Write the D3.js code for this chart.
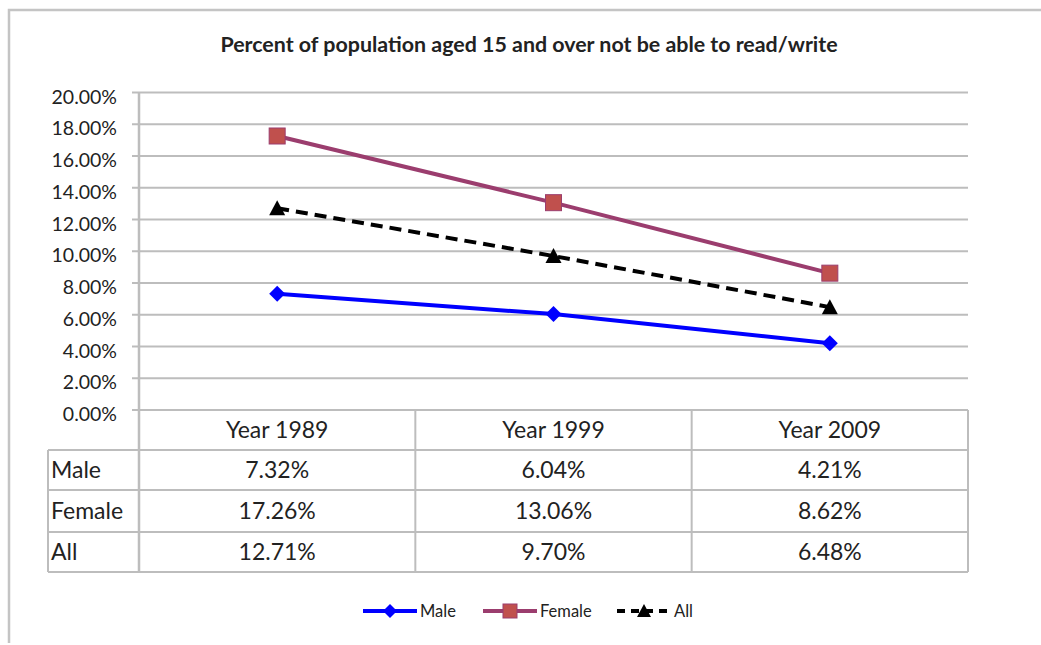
<!DOCTYPE html>
<html>
<head>
<meta charset="utf-8">
<script src="https://cdn.jsdelivr.net/npm/d3@7"></script>
<style>
  body { margin: 0; background: #fff; }
  text { font-family: Lato, "Open Sans", sans-serif; fill: #222; }
</style>
</head>
<body>
<svg width="1041" height="645"></svg>
<script>
var svg = d3.select('svg');

// data
var years = ['Year 1989', 'Year 1999', 'Year 2009'];
var male = [7.32, 6.04, 4.21];
var female = [17.26, 13.06, 8.62];
var all = [12.71, 9.70, 6.48];
var yTicks = [0, 2, 4, 6, 8, 10, 12, 14, 16, 18, 20];
var title = 'Percent of population aged 15 and over not be able to read/write';

var series = [
  { name: 'Male', values: male, color: '#0000ff', marker: 'diamond', dash: null },
  { name: 'Female', values: female, color: '#9b3d6e', marker: 'square', dash: null },
  { name: 'All', values: all, color: '#000', marker: 'triangle', dash: '12,7' }
];

var grid = '#bdbdbd';
var plotLeft = 139, plotRight = 968, plotTop = 92.5, plotBottom = 410;
var rowY = [410, 450, 490, 532, 572];
var tableLeft = 48;
var cellFont = '23px';

// outer frame
svg.append('path')
  .attr('d', 'M9,643 V10 H1041')
  .attr('fill', 'none')
  .attr('stroke', '#c4c4c4')
  .attr('stroke-width', 2.5);

svg.append('text')
  .attr('x', 529).attr('y', 52)
  .attr('text-anchor', 'middle')
  .style('font-size', '21.4px')
  .style('font-weight', 'bold')
  .text(title);

var xScale = d3.scaleBand().domain(years).range([plotLeft, plotRight]);
var yScale = d3.scaleLinear().domain([0, 20]).range([plotBottom, plotTop]);

// gridlines
svg.selectAll('.grid')
  .data(yTicks)
  .enter()
  .append('line')
  .attr('x1', plotLeft - 7)
  .attr('x2', plotRight)
  .attr('y1', function(d) { return yScale(d); })
  .attr('y2', function(d) { return yScale(d); })
  .attr('stroke', grid)
  .attr('stroke-width', 2);

var yAxis = d3.axisLeft(yScale)
  .tickValues(yTicks)
  .tickSize(0)
  .tickPadding(22)
  .tickFormat(function(d) { return d3.format('.2f')(d) + '%'; });
var ya = svg.append('g')
  .attr('transform', 'translate(' + plotLeft + ',0)')
  .call(yAxis);
ya.select('.domain').remove();
ya.selectAll('text')
  .style('font-size', '19.5px')
  .style('font-family', 'Lato, sans-serif')
  .attr('fill', '#333')
  .attr('dy', '0.55em');

// table lines
svg.append('line')
  .attr('x1', plotLeft).attr('x2', plotLeft)
  .attr('y1', plotTop).attr('y2', rowY[4])
  .attr('stroke', grid).attr('stroke-width', 2.5);
svg.selectAll('.rowline')
  .data(rowY.slice(1))
  .enter()
  .append('line')
  .attr('x1', tableLeft).attr('x2', plotRight)
  .attr('y1', function(d) { return d; })
  .attr('y2', function(d) { return d; })
  .attr('stroke', grid).attr('stroke-width', 2);
svg.append('line')
  .attr('x1', tableLeft).attr('x2', tableLeft)
  .attr('y1', rowY[1]).attr('y2', rowY[4])
  .attr('stroke', grid).attr('stroke-width', 2);
svg.selectAll('.colline')
  .data(years)
  .enter()
  .append('line')
  .attr('x1', function(d) { return xScale(d) + xScale.bandwidth(); })
  .attr('x2', function(d) { return xScale(d) + xScale.bandwidth(); })
  .attr('y1', rowY[0]).attr('y2', rowY[4])
  .attr('stroke', grid).attr('stroke-width', 2);

// header
svg.selectAll('.head')
  .data(years)
  .enter()
  .append('text')
  .attr('x', function(d) { return xScale(d) + xScale.bandwidth() / 2; })
  .attr('y', (rowY[0] + rowY[1]) / 2 + 8)
  .attr('text-anchor', 'middle')
  .style('font-size', cellFont)
  .text(function(d) { return d; });

// rows
series.forEach(function(s, r) {
  var cy = (rowY[r + 1] + rowY[r + 2]) / 2 + 8;
  svg.append('text')
    .attr('x', tableLeft + 3).attr('y', cy)
    .style('font-size', cellFont)
    .text(s.name);
  s.values.forEach(function(v, i) {
    svg.append('text')
      .attr('x', xScale(years[i]) + xScale.bandwidth() / 2)
      .attr('y', cy)
      .attr('text-anchor', 'middle')
      .style('font-size', cellFont)
      .text(d3.format('.2f')(v) + '%');
  });
});

function drawMarker(g, type, x, y, big) {
  if (type == 'diamond') {
    var r = big ? 8 : 7;
    g.append('path')
      .attr('d', 'M' + x + ',' + (y - r) + 'L' + (x + r) + ',' + y + 'L' + x + ',' + (y + r) + 'L' + (x - r) + ',' + y + 'Z')
      .attr('fill', '#0000ff');
  } else if (type == 'square') {
    var h = big ? 8 : 7;
    g.append('rect')
      .attr('x', x - h).attr('y', y - h)
      .attr('width', 2 * h).attr('height', 2 * h)
      .attr('fill', '#c0504d')
      .attr('stroke', '#9b3d6e')
      .attr('stroke-width', 1);
  } else {
    var t = big ? 8 : 7;
    g.append('path')
      .attr('d', 'M' + x + ',' + (y - t) + 'L' + (x + t) + ',' + (y + t - 1) + 'L' + (x - t) + ',' + (y + t - 1) + 'Z')
      .attr('fill', '#000');
  }
}

var line = d3.line()
  .x(function(d, i) { return xScale(years[i]) + xScale.bandwidth() / 2; })
  .y(function(d) { return yScale(d); });

series.forEach(function(s) {
  var g = svg.append('g');
  g.append('path')
    .attr('d', line(s.values))
    .attr('fill', 'none')
    .attr('stroke', s.color)
    .attr('stroke-width', 4)
    .attr('stroke-dasharray', s.dash);
  s.values.forEach(function(v, i) {
    drawMarker(g, s.marker, xScale(years[i]) + xScale.bandwidth() / 2, yScale(v), true);
  });
});

// legend
var legendX = [363, 483, 617];
var ly = 611;
series.forEach(function(s, i) {
  var g = svg.append('g');
  g.append('line')
    .attr('x1', legendX[i]).attr('x2', legendX[i] + 54)
    .attr('y1', ly).attr('y2', ly)
    .attr('stroke', s.color)
    .attr('stroke-width', 4)
    .attr('stroke-dasharray', s.dash ? '8,6' : null);
  drawMarker(g, s.marker, legendX[i] + 27, ly, false);
  g.append('text')
    .attr('x', legendX[i] + 57).attr('y', ly + 6)
    .style('font-size', '16.5px')
    .attr('fill', '#333')
    .text(s.name);
});
</script>
</body>
</html>
